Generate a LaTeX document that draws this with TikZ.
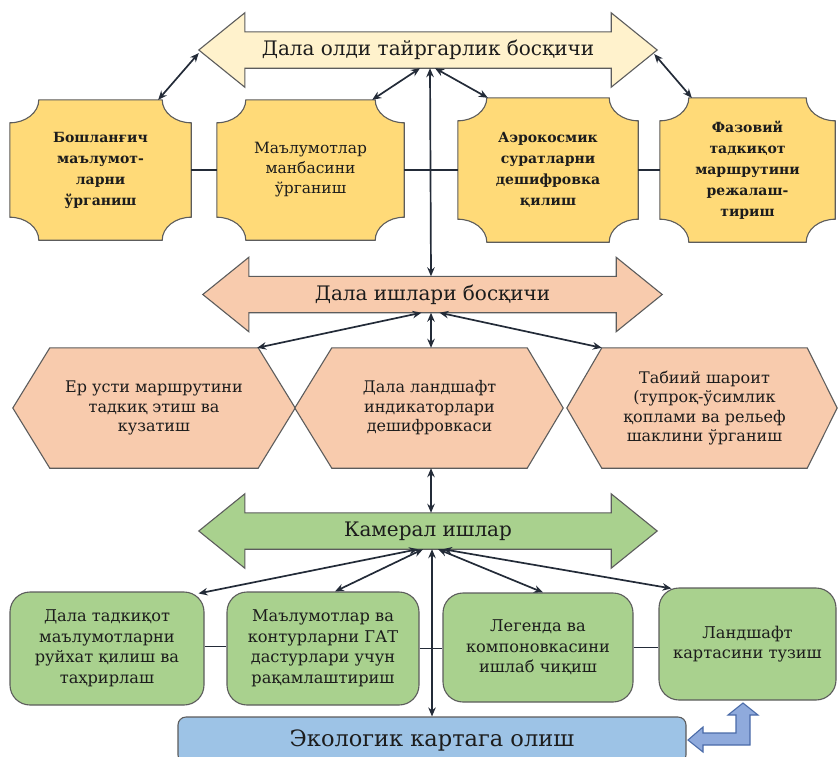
\documentclass[tikz,border=0pt]{standalone}
\usepackage{fontspec}
\setmainfont{DejaVu Serif}
\usetikzlibrary{calc,arrows.meta}
\pgfdeclarelayer{background}
\pgfsetlayers{background,main}

\definecolor{prepfill}{HTML}{FFF2CC}
\definecolor{plaquefill}{HTML}{FFDA78}
\definecolor{fieldfill}{HTML}{F8CBAD}
\definecolor{camfill}{HTML}{A9D18E}
\definecolor{ecofill}{HTML}{9DC3E6}
\definecolor{bentfill}{HTML}{8FAADC}
\definecolor{bentline}{HTML}{4A6BA8}
\definecolor{edgecol}{HTML}{5C5C5C}
\definecolor{linkcol}{HTML}{232B38}
\definecolor{ink}{HTML}{1C1C1C}

\tikzset{
  shapeline/.style={draw=edgecol, line width=1.1pt},
  bartext/.style={inner sep=0pt, text=ink, minimum height=36pt,
    font=\fontsize{20}{24}\selectfont},
  plaque/.style={inner sep=0pt, text=ink, align=center, minimum height=140pt,
    font=\bfseries\fontsize{14}{21}\selectfont},
  plaquelight/.style={plaque, font=\fontsize{15.5}{20}\selectfont},
  hexnode/.style={inner sep=0pt, text=ink, align=center, minimum height=120pt,
    font=\fontsize{16}{19.5}\selectfont},
  cambox/.style={shapeline, fill=camfill, rounded corners=20pt, inner sep=0pt,
    align=center, text=ink, font=\fontsize{16.2}{20.5}\selectfont},
  linkarrow/.style={draw=linkcol, line width=1.7pt,
    {Stealth[length=9pt,width=7.5pt]}-{Stealth[length=9pt,width=7.5pt]}},
  joinline/.style={draw=linkcol, line width=1.4pt},
}

% plaque outline: rectangle with concave quarter-ellipse corners
\def\plaqrx{29}
\def\plaqry{23}
\newcommand\plaqueoutline[1]{%
  \draw[shapeline, fill=plaquefill]
    ($(#1.north west)+(\plaqrx,0)$) -- ($(#1.north east)+(-\plaqrx,0)$)
    arc[start angle=180, end angle=270, x radius=\plaqrx, y radius=\plaqry]
    -- ($(#1.south east)+(0,\plaqry)$)
    arc[start angle=90, end angle=180, x radius=\plaqrx, y radius=\plaqry]
    -- ($(#1.south west)+(\plaqrx,0)$)
    arc[start angle=0, end angle=90, x radius=\plaqrx, y radius=\plaqry]
    -- ($(#1.north west)+(0,-\plaqry)$)
    arc[start angle=270, end angle=360, x radius=\plaqrx, y radius=\plaqry]
    -- cycle;}

% hexagon outline around a node spanning the flat top edge
\newcommand\hexoutline[3]{%
  \draw[shapeline, fill=fieldfill]
    (#1.north west) -- (#1.north east) -- ($(#1.east)+(#3,0)$)
    -- (#1.south east) -- (#1.south west) -- ($(#1.west)+(-#2,0)$) -- cycle;}

% left-right block arrow around a node spanning the shaft
\newcommand\stagebar[2]{%
  \draw[shapeline, fill=#2]
    (#1.north west) -- (#1.north east) -- ($(#1.north east)+(0,19)$)
    -- ($(#1.east)+(46,0)$) -- ($(#1.south east)+(0,-19)$)
    -- (#1.south east) -- (#1.south west) -- ($(#1.south west)+(0,-19)$)
    -- ($(#1.west)+(-46,0)$) -- ($(#1.north west)+(0,19)$) -- cycle;}

\begin{document}
\begin{tikzpicture}[x=1pt, y=1pt]
\useasboundingbox (0,0) rectangle (838,-756);

% ---- stage bars ----
\node[bartext, minimum width=366pt] (prep) at (428,-50)
  {Дала олди тайргарлик босқичи};
\node[bartext, minimum width=367pt] (field) at (432.5,-294.5)
  {Дала ишлари босқичи};
\node[bartext, minimum width=366pt] (cam) at (428,-531)
  {Камерал ишлар};
\coordinate (prepL) at ($(prep.west)+(-46,0)$);
\coordinate (prepR) at ($(prep.east)+(46,0)$);

% ---- preparatory tasks ----
\node[plaque, minimum width=181pt] (b1) at (100.5,-170)
  {Бошланғич\\маълумот-\\ларни\\ўрганиш};
\node[plaquelight, minimum width=187pt] (b2) at (310.5,-170)
  {Маълумотлар\\манбасини\\ўрганиш};
\node[plaque, minimum width=180pt, minimum height=144pt] (b3) at (548,-170)
  {Аэрокосмик\\суратларни\\дешифровка\\қилиш};
\node[plaque, minimum width=175pt, minimum height=144pt] (b4) at (747.5,-170)
  {Фазовий\\тадкиқот\\маршрутини\\режалаш-\\тириш};

% ---- field tasks ----
\node[hexnode, minimum width=208pt] (h1) at (154,-408)
  {Ер усти маршрутини\\тадкиқ этиш ва\\кузатиш};
\node[hexnode, minimum width=195pt] (h2) at (429.5,-408)
  {Дала ландшафт\\индикаторлари\\дешифровкаси};
\node[hexnode, minimum width=205pt] (h3) at (704.5,-408)
  {Табиий шароит\\(тупроқ-ўсимлик\\қоплами ва рельеф\\шаклини ўрганиш};

% ---- office tasks ----
\node[cambox, minimum width=194pt, minimum height=113pt] (g1) at (107,-648.5)
  {Дала тадкиқот\\маълумотларни\\руйхат қилиш ва\\таҳрирлаш};
\node[cambox, minimum width=192pt, minimum height=113pt] (g2) at (323,-648.5)
  {Маълумотлар ва\\контурларни ГАТ\\дастурлари учун\\рақамлаштириш};
\node[cambox, minimum width=190pt, minimum height=109pt] (g3) at (538,-647.5)
  {Легенда ва\\компоновкасини\\ишлаб чиқиш};
\node[cambox, minimum width=177pt, minimum height=112pt] (g4) at (747.5,-644)
  {Ландшафт\\картасини тузиш};

% ---- final result ----
\node[shapeline, fill=ecofill, rounded corners=8pt, inner sep=0pt,
      minimum width=508pt, minimum height=46pt, text=ink,
      font=\fontsize{22.5}{28}\selectfont] (eco) at (432,-740)
  {Экологик картага олиш};

\begin{pgfonlayer}{background}
  \stagebar{prep}{prepfill}
  \stagebar{field}{fieldfill}
  \stagebar{cam}{camfill}
  \plaqueoutline{b1}
  \plaqueoutline{b2}
  \plaqueoutline{b3}
  \plaqueoutline{b4}
  \hexoutline{h1}{37}{37}
  \hexoutline{h2}{37}{36}
  \hexoutline{h3}{35}{30}
\end{pgfonlayer}

% bent block arrow between the map boxes
\draw[draw=bentline, fill=bentfill, line width=1.1pt]
  (688,-740) -- (703,-727) -- (703,-733) -- (736,-733) -- (736,-715)
  -- (728,-715) -- (743,-703) -- (758,-715) -- (750,-715) -- (750,-745)
  -- (703,-745) -- (703,-752) -- cycle;

% ---- links between neighbouring boxes ----
\draw[joinline] (b1.east) -- (b1.east -| b2.west);
\draw[joinline] (b2.east) -- (b2.east -| b3.west);
\draw[joinline] (b3.east) -- (b3.east -| b4.west);
\draw[joinline] ([yshift=2pt]g1.east) -- ([yshift=2pt]g1.east -| g2.west);
\draw[joinline] (g2.east) -- (g2.east -| g3.west);
\draw[joinline] (g3.east) -- (g3.east -| g4.west);

% ---- preparatory stage links ----
\draw[linkarrow] ([yshift=-3pt]prepL) -- ([xshift=-33pt]b1.north east);
\draw[linkarrow] ([xshift=-8pt]prep.south) -- ([xshift=-32pt]b2.north east);
\draw[linkarrow] ([xshift=2pt]prep.south) -- ([xshift=-1.5pt]field.north);
\draw[linkarrow] ([xshift=7pt]prep.south) -- ([xshift=30pt]b3.north west);
\draw[linkarrow] ([xshift=-3pt,yshift=-4pt]prepR) -- ([xshift=32pt]b4.north west);

% ---- field stage links ----
\draw[linkarrow] ([xshift=-11pt]field.south) -- ([xshift=-1pt]h1.north east);
\draw[linkarrow] ([xshift=-1.5pt]field.south) -- ([xshift=1.5pt]h2.north);
\draw[linkarrow] ([xshift=7pt]field.south) -- (h3.north west);
\draw[linkarrow] ([xshift=1.5pt]h2.south) -- ([xshift=3pt]cam.north);

% ---- office stage links ----
\draw[linkarrow] ([xshift=-10pt]cam.south) -- ([xshift=-6pt,yshift=-2pt]g1.north east);
\draw[linkarrow] ([xshift=-5pt]cam.south) -- ([xshift=12pt]g2.north);
\draw[linkarrow] ([xshift=4pt]cam.south) -- (eco.north);
\draw[linkarrow] ([xshift=10pt]cam.south) -- ([xshift=5pt]g3.north);
\draw[linkarrow] ([xshift=15pt]cam.south) -- ([xshift=13pt,yshift=-1pt]g4.north west);
\end{tikzpicture}
\end{document}
